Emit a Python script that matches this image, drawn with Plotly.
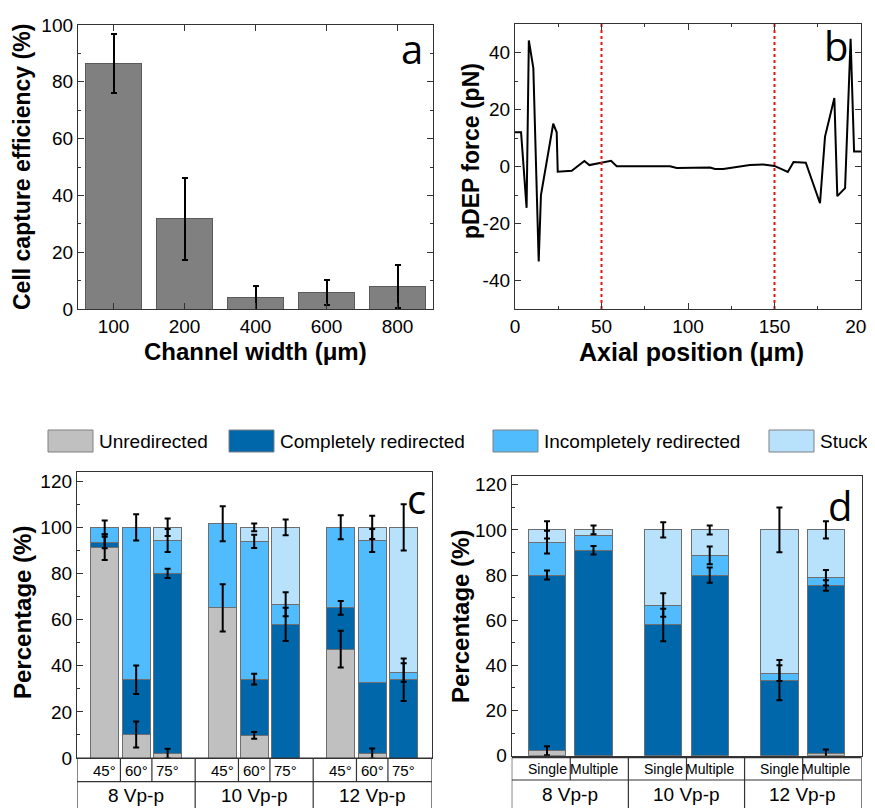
import plotly.graph_objects as go

# browser body has an 8px default margin; figure is sized so it fills the 875x808 window
W, H = 875, 808
OFF = 8
FW, FH = W - OFF, H - OFF

# ---------------- data ----------------
# panel a
channel_widths = ["100", "200", "400", "600", "800"]
capture_eff = [86.3, 31.8, 3.9, 5.8, 7.8]
capture_err = [10.4, 14.4, 4.2, 4.3, 7.6]

# panel b
axial_pos = [0, 3.5, 6.7, 8.0, 10.6, 13.7, 15.0, 22.1, 24.1, 24.7, 32.8, 40.1, 43.0,
             55.5, 58.8, 89.6, 93.5, 112.8, 115.6, 120.4, 135.8, 143.5, 150.0, 157.7,
             161.0, 168.1, 176.3, 179.2, 184.6, 186.3, 190.8, 194.0, 196.0, 200]
pdep_force = [12.0, 12.0, -14.5, 44.2, 34.5, -33.3, -10.0, 15.0, 12.0, -1.8, -1.5, 1.9, 0.5,
              2.0, 0.1, 0.1, -0.5, -0.35, -0.9, -0.9, 0.5, 0.7, 0.2, -1.9,
              1.6, 1.3, -12.9, 10.5, 24.0, -10.4, -7.6, 44.8, 5.3, 5.3]
electrode_edges = [50, 150]

# panels c, d
voltages = ["8 Vp-p", "10 Vp-p", "12 Vp-p"]
angles = ["45°", "60°", "75°"]
modes = ["Single", "Multiple"]
outcomes = ["Unredirected", "Completely redirected", "Incompletely redirected", "Stuck"]

c_unred = [91.4, 10.2, 1.9, 65.1, 9.8, 0.0, 47.2, 1.9, 0.0]
c_comp = [2.0, 23.7, 78.1, 0.0, 24.4, 57.9, 17.9, 30.7, 33.9]
c_incomp = [6.6, 66.1, 14.3, 36.5, 59.7, 8.8, 34.9, 61.7, 3.2]
c_stuck = [0.0, 0.0, 5.7, 0.0, 6.1, 33.3, 0.0, 5.7, 62.9]
c_unred_err = [5.5, 5.6, 2.1, 10.2, 1.5, None, 8.0, 2.2, None]
c_comp_err = [2.5, 6.2, 2.0, None, 2.3, 7.2, 3.0, None, 9.2]
c_incomp_err = [3.0, 5.7, 5.0, 7.6, 2.9, 5.2, 5.2, 5.0, 4.0]
c_stuck_err = [None, None, 3.8, None, 1.7, 3.4, None, 5.0, 10.0]

d_unred = [2.2, 0.0, 0.0, 0.0, 0.0, 0.9]
d_comp = [77.8, 91.0, 57.9, 80.0, 33.5, 74.5]
d_incomp = [14.6, 6.6, 8.8, 8.7, 3.1, 3.4]
d_stuck = [5.4, 2.4, 33.3, 11.3, 63.4, 21.2]
d_unred_err = [2.0, None, None, None, None, 1.9]
d_comp_err = [2.0, 1.9, 7.2, 3.4, 8.9, 2.3]
d_incomp_err = [5.0, None, 5.2, 3.9, 3.5, 3.4]
d_stuck_err = [3.8, 1.9, 3.4, 2.0, 9.9, 3.8]

# ---------------- style ----------------
FONT = "Liberation Sans, Arial, sans-serif"
LETTER_FONT = "Open Sans, sans-serif"
COLORS = ["#c0c0c0", "#0067aa", "#50bbfd", "#b8e2fb"]
OUTLINE = "#6e6e6e"
AXC = "#333333"


def px(x):
    return (x - OFF) / FW


def py(y):
    return 1 - (y - OFF) / FH


def positions(n_groups, n_per, gap):
    return [g * (n_per + gap) + j for g in range(n_groups) for j in range(n_per)]


pos_c = positions(len(voltages), len(angles), 0.75)
pos_d = positions(len(voltages), len(modes), 0.5)

fig = go.Figure()

# ---- panel a ----
fig.add_trace(go.Bar(
    x=channel_widths, y=capture_eff, width=0.8,
    marker=dict(color="#808080", line=dict(color="#5a5a5a", width=1)),
    error_y=dict(type="data", array=capture_err, color="black", thickness=2, width=3),
    xaxis="x", yaxis="y", showlegend=False))

# ---- panel b ----
fig.add_trace(go.Scatter(
    x=axial_pos, y=pdep_force, mode="lines",
    line=dict(color="black", width=2), xaxis="x2", yaxis="y2", showlegend=False))
for xe in electrode_edges:
    fig.add_trace(go.Scatter(
        x=[xe, xe], y=[-50, 50], mode="lines",
        line=dict(color="#ee1111", width=2, dash="dot"),
        xaxis="x2", yaxis="y2", showlegend=False))


def stacked(pos, series, errs, width, xa, ya):
    tops = [0.0] * len(pos)
    out = []
    for name, vals, err, color in zip(outcomes, series, errs, COLORS):
        fig.add_trace(go.Bar(
            x=pos, y=vals, width=width, name=name,
            marker=dict(color=color, line=dict(color=OUTLINE, width=1)),
            xaxis=xa, yaxis=ya, showlegend=False))
        tops = [t + v for t, v in zip(tops, vals)]
        xs = [p for p, e in zip(pos, err) if e is not None]
        ys = [t for t, e in zip(tops, err) if e is not None]
        es = [e for e in err if e is not None]
        out.append((xs, ys, es, xa, ya))
    return out


err_traces = stacked(pos_c, [c_unred, c_comp, c_incomp, c_stuck],
                     [c_unred_err, c_comp_err, c_incomp_err, c_stuck_err], 0.89, "x3", "y3")
err_traces += stacked(pos_d, [d_unred, d_comp, d_incomp, d_stuck],
                      [d_unred_err, d_comp_err, d_incomp_err, d_stuck_err], 0.8, "x4", "y4")
for xs, ys, es, xa, ya in err_traces:
    fig.add_trace(go.Scatter(
        x=xs, y=ys, mode="markers", marker=dict(size=2, color="rgba(0,0,0,0)"),
        error_y=dict(type="data", array=es, color="black", thickness=2, width=3),
        xaxis=xa, yaxis=ya, showlegend=False, hoverinfo="skip"))

tickfont = dict(family=FONT, size=19, color="black")
base = dict(showline=True, linecolor=AXC, linewidth=1.3, showgrid=False, zeroline=False,
            tickfont=tickfont, tickcolor=AXC)

fig.update_layout(
    width=FW, height=FH, margin=dict(l=0, r=0, t=0, b=0),
    paper_bgcolor="white", plot_bgcolor="white", barmode="stack",
    template="none",
    xaxis=dict(base, domain=[px(78), px(433)], anchor="y", type="category",
               range=[-0.5, 4.5], ticks="inside", ticklen=6, mirror="ticks"),
    yaxis=dict(base, domain=[py(309), py(25)], anchor="x", range=[0, 100], dtick=20,
               ticks="inside", ticklen=6, mirror="ticks",
               minor=dict(ticks="inside", ticklen=3, dtick=10, tickcolor=AXC)),
    xaxis2=dict(base, domain=[px(515), px(861)], anchor="y2", range=[0, 200], dtick=50,
                ticks="inside", ticklen=6, mirror="ticks", ticklabeloverflow="allow",
                minor=dict(ticks="inside", ticklen=3, dtick=25, tickcolor=AXC)),
    yaxis2=dict(base, domain=[py(309), py(24)], anchor="x2", range=[-50, 50],
                tickmode="array", tickvals=list(range(-40, 41, 20)),
                ticktext=[str(v) for v in range(-40, 41, 20)],
                ticks="inside", ticklen=6, mirror="ticks",
                minor=dict(ticks="inside", ticklen=3, tickvals=[-30, -10, 10, 30], tickcolor=AXC)),
    xaxis3=dict(base, domain=[px(77), px(432)], anchor="y3", range=[-0.88, 10.4],
                showticklabels=False, ticks="", mirror=True),
    yaxis3=dict(base, domain=[py(758), py(472)], anchor="x3", range=[0, 124], dtick=20,
                ticks="inside", ticklen=6, mirror=True,
                minor=dict(ticks="inside", ticklen=3, dtick=10, tickcolor=AXC)),
    xaxis4=dict(base, domain=[px(511.7), px(861.7)], anchor="y4", range=[-0.76, 6.77],
                showticklabels=False, ticks="", mirror=True),
    yaxis4=dict(base, domain=[py(755.7), py(475.7)], anchor="x4", range=[0, 124], dtick=20,
                ticks="inside", ticklen=6, mirror=True,
                minor=dict(ticks="inside", ticklen=3, dtick=10, tickcolor=AXC)),
)

shapes = []
annotations = []


def title(text, x, y, size, angle=0):
    annotations.append(dict(text="<b>%s</b>" % text, x=px(x), y=py(y), xref="paper", yref="paper",
                            showarrow=False, textangle=angle, xanchor="center", yanchor="middle",
                            font=dict(family=FONT, size=size, color="black")))


title("Cell capture efficiency (%)", 22, 167, 23, -90)
title("Channel width (μm)", 255, 352, 24)
title("pDEP force (pN)", 471, 151, 23, -90)
title("Axial position (μm)", 691, 352, 25)
title("Percentage (%)", 22, 613, 24, -90)
title("Percentage (%)", 460, 616, 24, -90)

for letter, x, y in [("a", 412, 48), ("b", 836, 45), ("c", 416, 498), ("d", 840, 505)]:
    annotations.append(dict(text=letter, x=px(x), y=py(y), xref="paper", yref="paper",
                            showarrow=False, xanchor="center", yanchor="middle",
                            font=dict(family=LETTER_FONT, size=40, color="black")))

# legend (manual, large swatches)
legend_items = [(48, 97), (229, 278), (493, 542), (769, 818)]
for (bx, tx), name, color in zip(legend_items, outcomes, COLORS):
    shapes.append(dict(type="rect", xref="paper", yref="paper",
                       x0=px(bx), x1=px(bx + 45), y0=py(452), y1=py(430),
                       fillcolor=color, line=dict(color="#808080", width=1)))
    annotations.append(dict(text=name, x=px(tx), y=py(441), xref="paper", yref="paper",
                            showarrow=False, xanchor="left", yanchor="middle",
                            font=dict(family=FONT, size=19, color="black")))


def table(pos, xr, x_lo, x_hi, n_per, labels, top, mid, row1_y, row2_y, size1):
    line = dict(color=AXC, width=1.2)
    shapes.append(dict(type="line", xref=xr, yref="paper", x0=x_lo, x1=x_hi,
                       y0=py(top), y1=py(top), line=line))
    shapes.append(dict(type="line", xref=xr, yref="paper", x0=x_lo, x1=x_hi,
                       y0=py(mid), y1=py(mid), line=line))
    for xb in (x_lo, x_hi):
        shapes.append(dict(type="line", xref=xr, yref="paper", x0=xb, x1=xb,
                           y0=py(top), y1=0, line=line))
    for i in range(len(pos) - 1):
        xm = (pos[i] + pos[i + 1]) / 2
        group_edge = (i + 1) % n_per == 0
        shapes.append(dict(type="line", xref=xr, yref="paper", x0=xm, x1=xm,
                           y0=py(top), y1=0 if group_edge else py(mid), line=line))
    for i, p in enumerate(pos):
        annotations.append(dict(text=labels[i % n_per], x=p, y=py(row1_y), xref=xr, yref="paper",
                                showarrow=False, xanchor="center", yanchor="middle",
                                font=dict(family=FONT, size=size1, color="black")))
    for g, v in enumerate(voltages):
        gp = pos[g * n_per:(g + 1) * n_per]
        annotations.append(dict(text=v, x=sum(gp) / len(gp), y=py(row2_y), xref=xr, yref="paper",
                                showarrow=False, xanchor="center", yanchor="middle",
                                font=dict(family=FONT, size=19, color="black")))


table(pos_c, "x3", -0.88, 10.4, len(angles), angles, 758, 781.7, 770, 795, 15)
table(pos_d, "x4", -0.76, 6.77, len(modes), modes, 757.7, 780, 769, 794, 14)

fig.update_layout(shapes=shapes, annotations=annotations)
fig.write_html("out.html")
